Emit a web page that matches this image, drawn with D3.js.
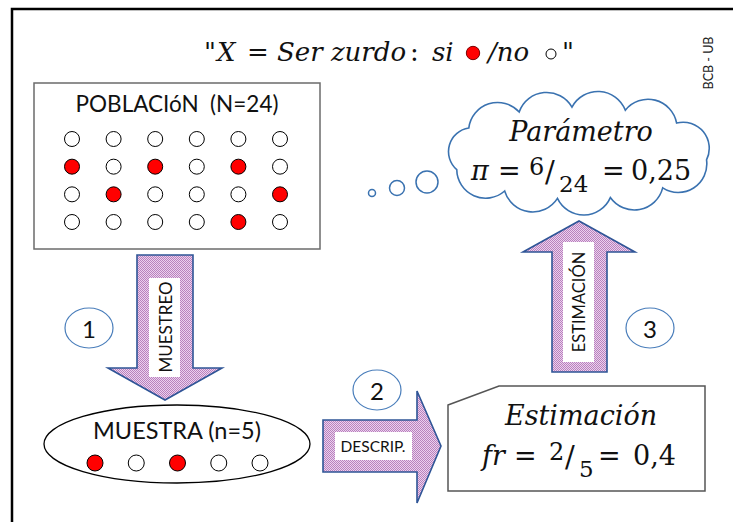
<!DOCTYPE html>
<html>
<head>
<meta charset="utf-8">
<script src="https://cdn.jsdelivr.net/npm/d3@7"></script>
<style>
  body { margin: 0; background: #fff; }
  text { white-space: pre; }
</style>
</head>
<body>
<svg id="chart"></svg>
<script>
// Population of 24 people: 1 = left-handed (red), 0 = not
const popGrid = [
  [0, 0, 0, 0, 0, 0],
  [1, 0, 1, 0, 1, 0],
  [0, 1, 0, 0, 0, 1],
  [0, 0, 0, 0, 1, 0]
];
// Sample of n = 5
const sampleDots = [1, 0, 1, 0, 0];
const legendDots = [1, 0];
const stepLabels = ['1', '2', '3'];
const arrowLabels = ['MUESTREO', 'DESCRIP.', 'ESTIMACIÓN'];
const popTitle = 'POBLACIóN  (N=24)';
const sampleTitle = 'MUESTRA (n=5)';
const credit = 'BCB - UB';

let width = 733, height = 522;
let sans = 'Lato, "Open Sans", sans-serif';
let serif = '"DejaVu Serif", serif';

let svg = d3.select('#chart')
  .attr('width', width)
  .attr('height', height);

let dotColor = d3.scaleOrdinal()
  .domain([0, 1])
  .range(['#ffffff', '#ff0000']);

// pink checker fill of the block arrows
let pat = svg.append('defs').append('pattern')
  .attr('id', 'hatch')
  .attr('width', 2)
  .attr('height', 2)
  .attr('patternUnits', 'userSpaceOnUse');
pat.append('rect').attr('width', 2).attr('height', 2).attr('fill', '#ecd0ee');
pat.append('rect').attr('width', 1).attr('height', 1).attr('fill', '#b882bd');
pat.append('rect').attr('x', 1).attr('y', 1).attr('width', 1).attr('height', 1).attr('fill', '#b882bd');

// outer frame (top and left only)
svg.append('path')
  .attr('d', 'M12,522 L12,9 L733,9')
  .attr('fill', 'none')
  .attr('stroke', '#000')
  .attr('stroke-width', 2.5);

// pieces of a formula: [text, x, y, italic, size, anchor]
let mathText = function (parts, size) {
  parts.forEach((p) => {
    svg.append('text')
      .attr('x', p[1])
      .attr('y', p[2])
      .attr('font-family', serif)
      .attr('font-size', p[4] || size)
      .attr('font-style', p[3] ? 'italic' : 'normal')
      .attr('text-anchor', p[5] || 'start')
      .attr('fill', '#111')
      .text(p[0]);
  });
};

// title
mathText([
  ['"', 204, 61, false],
  ['X', 217, 61, true],
  ['=', 247, 61, false],
  ['Ser zurdo', 277, 61, true],
  [':', 410, 61, false],
  ['si', 432, 61, true],
  ['/no', 488, 61, true],
  ['"', 562, 61, false]
], 26);

let legendX = d3.scaleOrdinal().domain(legendDots).range([473, 551]);
svg.selectAll('.legend-dot')
  .data(legendDots)
  .enter().append('circle')
  .attr('class', 'legend-dot')
  .attr('cx', (d) => legendX(d))
  .attr('cy', (d) => d ? 53 : 54)
  .attr('r', (d) => d ? 6.7 : 5)
  .attr('fill', (d) => dotColor(d))
  .attr('stroke', (d) => d ? '#7a0000' : '#000')
  .attr('stroke-width', 1);

// credit
svg.append('text')
  .attr('transform', 'translate(713,63) rotate(-90)')
  .attr('text-anchor', 'middle')
  .attr('font-family', sans)
  .attr('font-size', 12.5)
  .attr('fill', '#222')
  .text(credit);

// population box
svg.append('rect')
  .attr('x', 34).attr('y', 83)
  .attr('width', 286).attr('height', 166)
  .attr('fill', '#fff')
  .attr('stroke', '#6b6b6b')
  .attr('stroke-width', 1.5);
svg.append('text')
  .attr('x', 177).attr('y', 112)
  .attr('text-anchor', 'middle')
  .attr('font-family', sans)
  .attr('font-size', 22.5)
  .attr('fill', '#111')
  .text(popTitle);

let popX = d3.scalePoint().domain(d3.range(6)).range([72, 280]);
let popY = d3.scalePoint().domain(d3.range(4)).range([139, 222]);
let popCells = popGrid.flatMap((row, r) => row.map((v, c) => ({r: r, c: c, v: v})));

svg.selectAll('.pop-dot')
  .data(popCells)
  .enter().append('circle')
  .attr('class', 'pop-dot')
  .attr('cx', (d) => popX(d.c))
  .attr('cy', (d) => popY(d.r))
  .attr('r', 7.5)
  .attr('fill', (d) => dotColor(d.v))
  .attr('stroke', '#000')
  .attr('stroke-width', 1);

// sample ellipse
svg.append('ellipse')
  .attr('cx', 177).attr('cy', 444)
  .attr('rx', 133).attr('ry', 39)
  .attr('fill', '#fff')
  .attr('stroke', '#000')
  .attr('stroke-width', 1.3);
svg.append('text')
  .attr('x', 177).attr('y', 439)
  .attr('text-anchor', 'middle')
  .attr('font-family', sans)
  .attr('font-size', 23.5)
  .attr('fill', '#111')
  .text(sampleTitle);

let sampleX = d3.scalePoint().domain(d3.range(sampleDots.length)).range([95, 260]);
svg.selectAll('.sample-dot')
  .data(sampleDots)
  .enter().append('circle')
  .attr('class', 'sample-dot')
  .attr('cx', (d, i) => sampleX(i))
  .attr('cy', 463)
  .attr('r', 8)
  .attr('fill', (d) => dotColor(d))
  .attr('stroke', '#000')
  .attr('stroke-width', 1);

// cloud built from arcs on an ellipse
let cloudPath = function (cx, cy, rx, ry, n, start) {
  let samples = d3.range(0, 1441).map((i) => {
    let a = start + i / 1440 * 2 * Math.PI;
    return [cx + rx * Math.cos(a), cy + ry * Math.sin(a)];
  });
  let cum = [0];
  for (let i = 1; i < samples.length; i++) {
    cum.push(cum[i - 1] + Math.hypot(samples[i][0] - samples[i - 1][0], samples[i][1] - samples[i - 1][1]));
  }
  let total = cum[cum.length - 1];
  let pts = d3.range(n).map((k) => samples[d3.bisectLeft(cum, total * k / n)]);
  let d = 'M' + pts[0][0] + ',' + pts[0][1];
  pts.forEach((p, k) => {
    let q = pts[(k + 1) % n];
    let r = Math.hypot(q[0] - p[0], q[1] - p[1]) * 0.55;
    d += 'A' + r + ',' + r + ' 0 0 1 ' + q[0] + ',' + q[1];
  });
  return d + 'Z';
};

svg.append('path')
  .attr('d', cloudPath(578, 153, 130, 46, 11, 0.15))
  .attr('fill', '#fff')
  .attr('stroke', '#3a72b0')
  .attr('stroke-width', 1.6);

svg.selectAll('.bubble')
  .data([[372, 193, 3.5], [397, 188, 7.5], [427, 182, 11]])
  .enter().append('circle')
  .attr('class', 'bubble')
  .attr('cx', (d) => d[0])
  .attr('cy', (d) => d[1])
  .attr('r', (d) => d[2])
  .attr('fill', '#fff')
  .attr('stroke', '#3a72b0')
  .attr('stroke-width', 1.5);

// estimate box with clipped corner
svg.append('path')
  .attr('d', d3.line()([[448, 405], [499, 386], [705, 386], [705, 491], [448, 491]]) + 'Z')
  .attr('fill', '#fff')
  .attr('stroke', '#555')
  .attr('stroke-width', 1.5);

mathText([
  ['Parámetro', 581, 141, true, 27, 'middle'],
  ['π', 471, 180, true],
  ['=', 498, 180, false],
  ['6', 529, 175, false, 24],
  ['/', 545, 182, false, 29],
  ['24', 559, 192, false, 23],
  ['=', 602, 180, false],
  ['0,25', 631, 180, false]
], 27);

mathText([
  ['Estimación', 581, 425, true, 27, 'middle'],
  ['fr', 482, 465, true],
  ['=', 514, 465, false],
  ['2', 549, 460, false, 24],
  ['/', 565, 467, false, 29],
  ['5', 579, 477, false, 23],
  ['=', 598, 465, false],
  ['0,4', 633, 465, false]
], 27);

// block arrows
let arrows = [
  {label: arrowLabels[0], pts: [[137, 255], [193, 255], [193, 368], [222, 368], [165, 400], [108, 368], [137, 368]],
    box: [149, 278, 31, 99], cx: 165, cy: 327, rot: true, size: 17},
  {label: arrowLabels[1], pts: [[323, 420], [417, 420], [417, 391], [441, 446], [417, 503], [417, 472], [323, 472]],
    box: [335, 432, 77, 28], cx: 373, cy: 446, rot: false, size: 15.5},
  {label: arrowLabels[2], pts: [[552, 372], [607, 372], [607, 252], [635, 252], [579, 221], [523, 252], [552, 252]],
    box: [563, 242, 31, 120], cx: 579, cy: 302, rot: true, size: 16.5}
];

let arrowG = svg.selectAll('.arrow')
  .data(arrows)
  .enter().append('g')
  .attr('class', 'arrow');

arrowG.append('path')
  .attr('d', (d) => d3.line()(d.pts) + 'Z')
  .attr('fill', 'url(#hatch)')
  .attr('stroke', '#2f5597')
  .attr('stroke-width', 1.6)
  .attr('stroke-linejoin', 'miter');

arrowG.append('rect')
  .attr('x', (d) => d.box[0])
  .attr('y', (d) => d.box[1])
  .attr('width', (d) => d.box[2])
  .attr('height', (d) => d.box[3])
  .attr('fill', '#fff');

arrowG.append('text')
  .attr('transform', (d) => 'translate(' + d.cx + ',' + d.cy + ')' + (d.rot ? ' rotate(-90)' : ''))
  .attr('text-anchor', 'middle')
  .attr('dominant-baseline', 'central')
  .attr('font-family', sans)
  .attr('font-size', (d) => d.size)
  .attr('fill', '#111')
  .text((d) => d.label);

// step numbers
let stepPos = [[89, 328], [377, 390], [650, 328]];
let steps = svg.selectAll('.step')
  .data(stepLabels)
  .enter().append('g')
  .attr('class', 'step')
  .attr('transform', (d, i) => 'translate(' + stepPos[i][0] + ',' + stepPos[i][1] + ')');

steps.append('ellipse')
  .attr('rx', 24)
  .attr('ry', 20)
  .attr('fill', '#fff')
  .attr('stroke', '#4a7ebb')
  .attr('stroke-width', 1.2);

steps.append('text')
  .attr('text-anchor', 'middle')
  .attr('dominant-baseline', 'central')
  .attr('font-family', sans)
  .attr('font-size', 24)
  .attr('fill', '#111')
  .text((d) => d);
</script>
</body>
</html>
